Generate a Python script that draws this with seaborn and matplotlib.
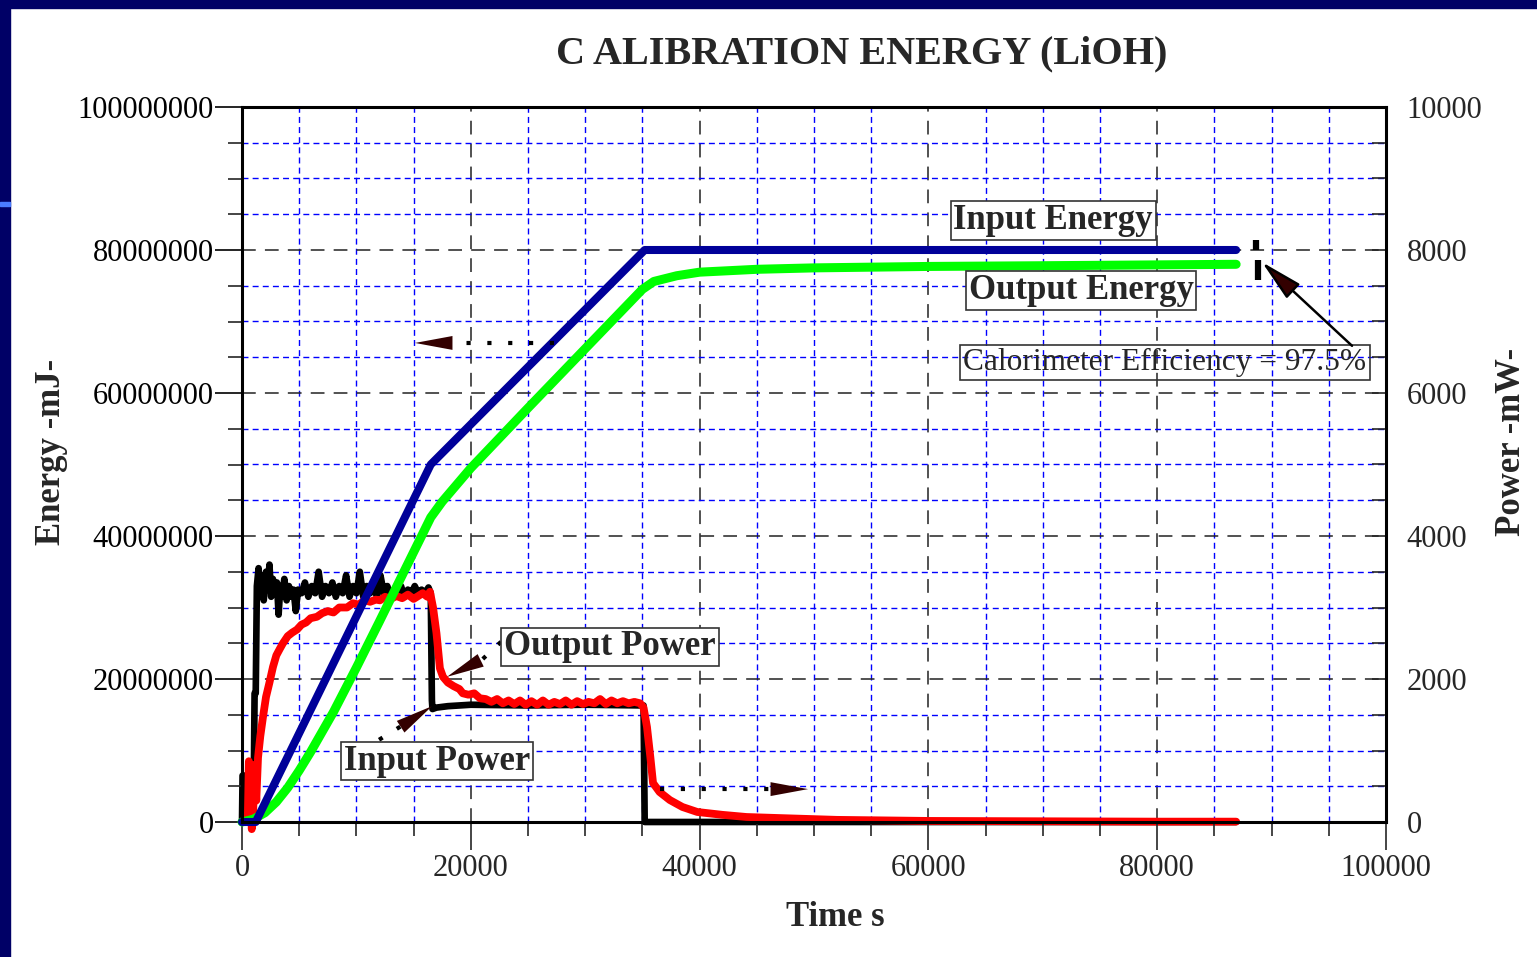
import numpy as np
import pandas as pd
import matplotlib
matplotlib.use("Agg")
import matplotlib.pyplot as plt
import seaborn as sns
from matplotlib.ticker import MultipleLocator, FixedLocator, FixedFormatter
from matplotlib.patches import Rectangle

# ---------------- data ----------------
input_energy_t = [0, 1200, 16500, 35200, 86900]
input_energy_v = [0, 0, 50.0e6, 80.0e6, 80.0e6]

output_energy_t = [0, 1000, 2000, 3000, 4000, 5000, 6000, 8000, 10000, 12000, 14000,
                   16500, 17500, 20000, 25000, 30000, 35000, 36000, 38000, 40000,
                   45000, 50000, 60000, 70000, 86900]
output_energy_v = [0, 0.4e6, 1.3e6, 2.8e6, 4.8e6, 7.2e6, 9.8e6, 15.4e6, 21.6e6, 28.0e6, 34.5e6,
                   42.6e6, 44.8e6, 49.5e6, 57.9e6, 66.2e6, 74.5e6, 75.6e6, 76.4e6, 76.9e6,
                   77.3e6, 77.5e6, 77.7e6, 77.8e6, 78.0e6]

input_power_t = [0, 50, 200, 250, 1000, 1100, 1200, 1300,
                 1450, 1600, 1750, 1900, 2100, 2250, 2400, 2550, 2700, 2900, 3050, 3200, 3350,
                 3500, 3700, 3900, 4100, 4300, 4500, 4700, 4900, 5200, 5500, 5800, 6100, 6400,
                 6700, 7000, 7300, 7600, 7900, 8200, 8500, 8800, 9100, 9400, 9700, 10000, 10300,
                 10600, 10900, 11200, 11500, 11800, 12100, 12400, 12700, 13000, 13300, 13600,
                 13900, 14200, 14500, 14800, 15100, 15400, 15700, 16000, 16300, 16500,
                 16600, 16650, 17000, 18000, 20000, 25000, 30000, 35100, 35200, 86900]
input_power_v = [0, 650, 650, 0, 0, 1800, 1800, 3300,
                 3550, 3150, 3450, 3100, 3500, 3250, 3600, 3150, 3400, 3200, 3350, 2900, 3300,
                 3150, 3400, 3100, 3300, 3150, 3250, 2950, 3250, 3200, 3350, 3150, 3300, 3200,
                 3500, 3150, 3300, 3200, 3350, 3150, 3300, 3200, 3450, 3150, 3300, 3200, 3500,
                 3150, 3300, 3200, 3350, 3150, 3450, 3200, 3300, 3150, 3250, 3200,
                 3300, 3150, 3250, 3200, 3300, 3200, 3250, 3200, 3280, 3200,
                 1700, 1580, 1600, 1620, 1640, 1630, 1640, 1630, 0, 0]

output_power_t = [0, 500, 600, 750, 850, 950, 1100, 1250, 1400, 1600, 1836, 2100, 2400, 2710,
                  3000, 3300, 3580, 4000, 4400, 4800, 5200, 5600, 6000, 6550, 7000, 7500, 8000,
                  8500, 9180, 9700, 10200, 10700, 11200, 11700, 12060, 12500, 13000, 13500,
                  14000, 14500, 15000, 15300, 15800, 16200, 16430, 16700, 17000, 17300, 17570,
                  18000, 18500, 19000, 19300, 19800, 20300, 20800, 21300, 21800, 22300, 22800,
                  23300, 23800, 24300, 24800, 25300, 25800, 26300, 26800, 27300, 27800, 28300,
                  28800, 29300, 29800, 30300, 30800, 31300, 31800, 32300, 32800, 33300, 33800,
                  34300, 34800, 35100, 35400, 35700, 35930, 36500, 37400, 38500, 39800, 42000,
                  44100, 47000, 52000, 60000, 70000, 80000, 86900]
output_power_v = [0, 0, 850, 700, -100, 0, 800, 300, 900, 1200, 1470, 1750, 1950, 2170,
                  2330, 2420, 2500, 2600, 2650, 2690, 2760, 2790, 2850, 2870, 2920, 2950, 2930,
                  3000, 3000, 3060, 3040, 3100, 3080, 3110, 3100, 3150, 3120, 3160,
                  3130, 3180, 3120, 3150, 3200, 3150, 3220, 3000, 2640, 2150, 2030,
                  1950, 1900, 1860, 1800, 1780, 1800, 1730, 1720, 1680, 1720, 1660,
                  1700, 1650, 1700, 1640, 1690, 1640, 1700, 1640, 1680, 1650, 1700,
                  1640, 1690, 1650, 1680, 1660, 1720, 1650, 1700, 1660, 1690, 1660,
                  1680, 1660, 1600, 1330, 900, 545, 420, 307, 210, 140, 100,
                  70, 55, 30, 15, 10, 5, 5]

energy_ticks = [0, 20000000, 40000000, 60000000, 80000000, 100000000]
energy_labels = ["0", "20000000", "40000000", "60000000", "80000000", "100000000"]
power_ticks = [0, 2000, 4000, 6000, 8000, 10000]
power_labels = ["0", "2000", "4000", "6000", "8000", "10000"]
time_ticks = [0, 20000, 40000, 60000, 80000, 100000]
time_labels = ["0", "20000", "40000", "60000", "80000", "100000"]

# ---------------- style ----------------
sns.set_style("white")
plt.rcParams["font.family"] = ["Liberation Serif", "DejaVu Serif"]

W, H = 1537, 957
fig = plt.figure(figsize=(W / 100, H / 100), dpi=100, facecolor="white")
navy = "#000066"
fig.patches.append(Rectangle((0, 1 - 8 / H), 1, 8 / H, transform=fig.transFigure,
                             color=navy, zorder=-10))
fig.patches.append(Rectangle((0, 0), 10 / W, 1, transform=fig.transFigure,
                             color=navy, zorder=-10))
fig.patches.append(Rectangle((0, 1 - 206 / H), 10 / W, 4 / H, transform=fig.transFigure,
                             color="#4a7cff", zorder=-9))

left, right, top, bottom = 242, 1386, 107, 822
rect = [left / W, 1 - bottom / H, (right - left) / W, (bottom - top) / H]
ax = fig.add_axes(rect)
ax2 = ax.twinx()
ax.set_zorder(2)
ax2.set_zorder(1)
ax.patch.set_visible(False)

ax.set_xlim(0, 100000)
ax.set_ylim(0, 1e8)
ax2.set_ylim(0, 10000)

# ticks
ax.xaxis.set_major_locator(FixedLocator(time_ticks))
ax.xaxis.set_major_formatter(FixedFormatter(time_labels))
ax.xaxis.set_minor_locator(MultipleLocator(5000))
ax.yaxis.set_major_locator(FixedLocator(energy_ticks))
ax.yaxis.set_major_formatter(FixedFormatter(energy_labels))
ax.yaxis.set_minor_locator(MultipleLocator(5e6))
ax2.yaxis.set_major_locator(FixedLocator(power_ticks))
ax2.yaxis.set_major_formatter(FixedFormatter(power_labels))
ax2.yaxis.set_minor_locator(MultipleLocator(500))

ax.tick_params(axis="y", which="major", direction="out", length=19.5, width=1.2,
               pad=1, labelsize=22, colors="black", left=True)
ax.tick_params(axis="y", which="minor", direction="out", length=10, width=1.2, left=True)
ax.tick_params(axis="x", which="major", direction="out", length=20, width=1.2,
               pad=3, labelsize=22, bottom=True)
ax.tick_params(axis="x", which="minor", direction="out", length=10, width=1.2, bottom=True)
ax2.tick_params(axis="y", which="major", direction="in", length=10, width=1.2,
                pad=15, labelsize=22, right=True)
ax2.tick_params(axis="y", which="minor", direction="in", length=10, width=1.2, right=True)

# grid on bottom axes
ax.grid(False)
ax2.xaxis.set_visible(True)
ax2.tick_params(axis="x", which="both", length=0, labelbottom=False, labeltop=False)
ax2.grid(which="minor", axis="both", color="#0000ff", linestyle=(0, (4.3, 3.0)), linewidth=1.0)
ax2.grid(which="major", axis="both", color="#222222", linestyle=(0, (9, 6)), linewidth=1.1)
ax2.set_axisbelow(True)

for sp in ax.spines.values():
    sp.set_linewidth(2.2)
    sp.set_color("black")
    sp.set_visible(True)
for sp in ax2.spines.values():
    sp.set_visible(False)

# ---------------- lines ----------------
sns.lineplot(x=input_power_t, y=input_power_v, ax=ax2, color="black", linewidth=4.8,
             estimator=None, sort=False, clip_on=False)
sns.lineplot(x=output_power_t, y=output_power_v, ax=ax2, color="#ff0000", linewidth=5.6,
             estimator=None, sort=False, clip_on=False)
sns.lineplot(x=output_energy_t, y=output_energy_v, ax=ax, color="#00ff00", linewidth=6.5,
             estimator=None, sort=False, clip_on=False)
sns.lineplot(x=input_energy_t, y=input_energy_v, ax=ax, color="#000099", linewidth=5.8,
             estimator=None, sort=False, clip_on=False)
ax.set_xlabel("")
ax.set_ylabel("")
ax2.set_ylabel("")

# "I" marker next to curves
ax.vlines([88650], [80.0e6], [81.4e6], color="black", linewidth=4.5)
ax.vlines([88830], [75.8e6], [78.6e6], color="black", linewidth=4.5)

# ---------------- labels / boxes ----------------
bold_box = dict(boxstyle="square,pad=0.08", fc="white", ec="#333333", lw=1.2)
ax.text(70900, 84.1e6, "Input Energy", fontsize=25, fontweight="bold",
        ha="center", va="center", bbox=bold_box, zorder=6)
ax.text(73340, 74.3e6, "Output Energy", fontsize=25, fontweight="bold",
        ha="center", va="center", bbox=bold_box, zorder=6)
ax.text(80680, 64.3e6, "Calorimeter Efficiency = 97.5%", fontsize=22.6,
        ha="center", va="center",
        bbox=dict(boxstyle="square,pad=0.1", fc="none", ec="#333333", lw=1.2), zorder=6)
ax.text(32170, 24.5e6, "Output Power", fontsize=25, fontweight="bold",
        ha="center", va="center", bbox=bold_box, zorder=6)
ax.text(17050, 8.53e6, "Input Power", fontsize=25, fontweight="bold",
        ha="center", va="center", bbox=bold_box, zorder=6)

head = "-|>,head_length=2.7,head_width=0.5"
brown = "#330000"
dots = (0, (1, 4))

def dotted_arrow(tail, base, tip):
    ax.plot([tail[0], base[0]], [tail[1], base[1]], linestyle=dots, linewidth=3,
            color="black", clip_on=False, zorder=5)
    ax.annotate("", xy=tip, xytext=base,
                arrowprops=dict(arrowstyle=head, mutation_scale=10, lw=0,
                                fc=brown, ec=brown, shrinkA=0, shrinkB=0), zorder=5)

dotted_arrow((27300, 67.0e6), (18360, 67.0e6), (15120, 67.0e6))
dotted_arrow((36540, 4.6e6), (46150, 4.6e6), (49480, 4.6e6))
dotted_arrow((22640, 25.2e6), (20980, 22.7e6), (17920, 20.3e6))
dotted_arrow((11980, 11.5e6), (14510, 14.0e6), (16610, 16.2e6))

ax.annotate("", xy=(89160, 78.3e6), xytext=(97030, 66.6e6),
            arrowprops=dict(arrowstyle="-|>,head_length=2.6,head_width=0.6",
                            mutation_scale=10, lw=1.8, fc=brown, ec="black",
                            shrinkA=0, shrinkB=0), zorder=6)

# titles
fig.text(862 / W, 1 - 54 / H, "C ALIBRATION ENERGY (LiOH)", fontsize=29,
         fontweight="bold", ha="center", va="center")
fig.text(52 / W, 1 - 452 / H, "Energy -mJ-", fontsize=25, fontweight="bold",
         rotation=90, ha="center", va="center")
fig.text(1512 / W, 1 - 442 / H, "Power -mW-", fontsize=25, fontweight="bold",
         rotation=90, ha="center", va="center")
fig.text(835 / W, 1 - 918 / H, "Time s", fontsize=25, fontweight="bold",
         ha="center", va="center")

fig.savefig("out.png", dpi=100, facecolor="white")
